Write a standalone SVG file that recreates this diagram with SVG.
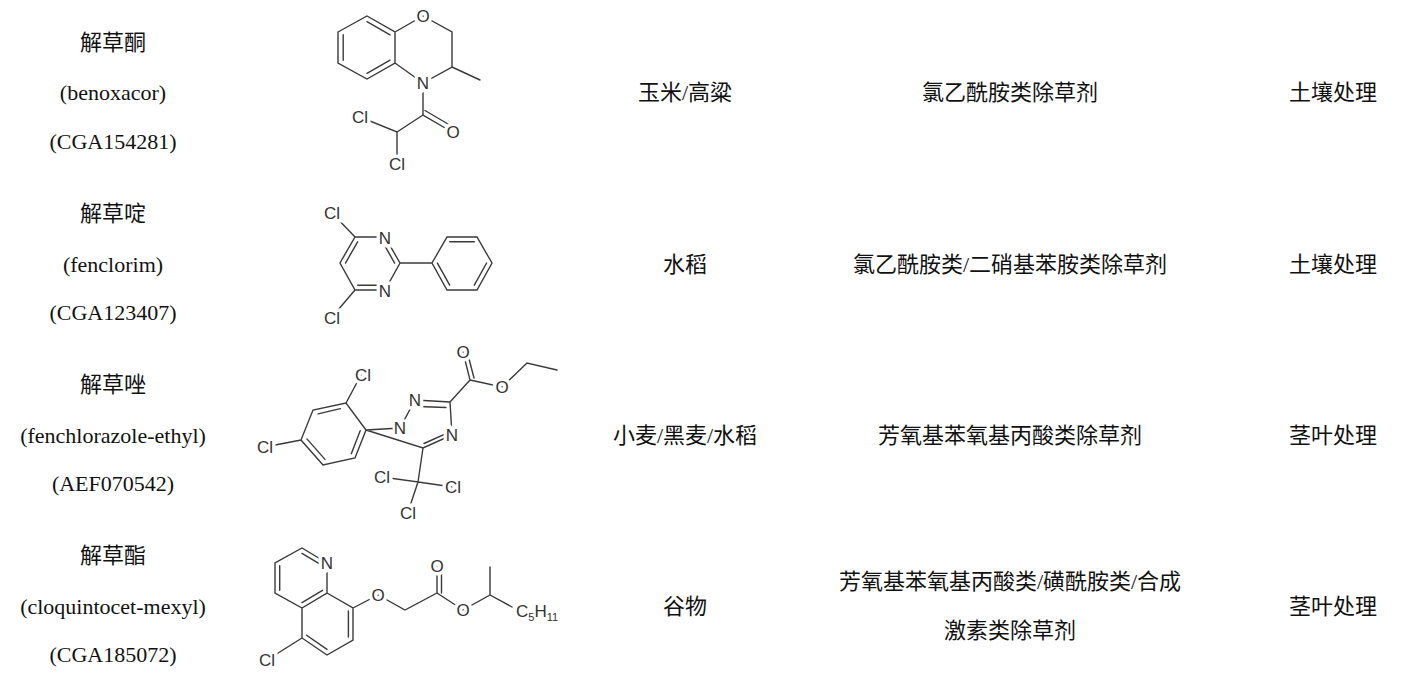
<svg xmlns="http://www.w3.org/2000/svg" width="1428" height="688" viewBox="0 0 1428 688">
<style>
.t{font-family:"Liberation Serif","Noto Sans CJK SC",serif;font-size:22px;fill:#111;text-anchor:middle}
.b{stroke:#3a3a3a;stroke-width:1.4;fill:none;stroke-linecap:round}
.a{font-family:"Liberation Sans",Arial,sans-serif;font-size:17px;fill:#333;text-anchor:middle;dominant-baseline:central;stroke:#fff;stroke-width:7;paint-order:stroke}
.c{font-family:"Liberation Sans",Arial,sans-serif;font-size:17px;fill:#333}
.s{font-size:11px}
</style>
<rect width="1428" height="688" fill="#fff"/>
<g id="row1">
<text class="t" x="113" y="50">解草酮</text><text class="t" x="113" y="100">(benoxacor)</text><text class="t" x="113" y="149">(CGA154281)</text>
<text class="t" x="685" y="100">玉米/高粱</text><text class="t" x="1010" y="100">氯乙酰胺类除草剂</text><text class="t" x="1333" y="100">土壤处理</text>
</g>
<g id="row2">
<text class="t" x="113" y="221">解草啶</text><text class="t" x="113" y="272">(fenclorim)</text><text class="t" x="113" y="320">(CGA123407)</text>
<text class="t" x="685" y="272">水稻</text><text class="t" x="1010" y="272">氯乙酰胺类/二硝基苯胺类除草剂</text><text class="t" x="1333" y="272">土壤处理</text>
</g>
<g id="row3">
<text class="t" x="113" y="392">解草唑</text><text class="t" x="113" y="443">(fenchlorazole-ethyl)</text><text class="t" x="113" y="491">(AEF070542)</text>
<text class="t" x="685" y="443">小麦/黑麦/水稻</text><text class="t" x="1010" y="443">芳氧基苯氧基丙酸类除草剂</text><text class="t" x="1333" y="443">茎叶处理</text>
</g>
<g id="row4">
<text class="t" x="113" y="563">解草酯</text><text class="t" x="113" y="614">(cloquintocet-mexyl)</text><text class="t" x="113" y="662">(CGA185072)</text>
<text class="t" x="685" y="614">谷物</text><text class="t" x="1010" y="589">芳氧基苯氧基丙酸类/磺酰胺类/合成</text><text class="t" x="1010" y="638">激素类除草剂</text><text class="t" x="1333" y="614">茎叶处理</text>
</g>
<g id="benoxacor">
<path class="b" d="M338,32L367,16L395,32L395,63L367,79L338,63Z M343.2,34.8V60.2 M367,21.7L390,34.8 M390,60.2L367,73.3 M395,32L423,16L452,32L452,67L423,83L395,63 M452,67L480,80 M423,83L423,115L452,132 M425,110.5L454,127.5 M423,115L397,132L360,117 M397,132L397,163"/>
<text class="a" x="423" y="16">O</text><text class="a" x="423" y="83">N</text><text class="a" x="453" y="132">O</text><text class="a" x="360" y="117">Cl</text><text class="a" x="397" y="164">Cl</text>
</g>
<g id="fenclorim">
<path class="b" d="M355,237L385,237L400,263L385,290L355,290L340,263Z M357.6,241.8L345.5,263.1 M382.6,241.8L394.6,263.1 M357.7,285.2L382.3,285.2 M355,237L332,213 M355,290L332,317 M400,263L432,263 M447,237L477,237L492,263L477,290L447,290L432,263Z M449.7,241.8L474.3,241.8 M486.6,263L474.3,285.2 M449.7,285.2L437.4,263.1"/>
<text class="a" x="385" y="238">N</text><text class="a" x="385" y="291">N</text><text class="a" x="332" y="213">Cl</text><text class="a" x="332" y="318">Cl</text>
</g>
<g id="fenchlorazole">
<path class="b" d="M366,430L346,403L313,410L301,440L323,465L355,458Z M340.4,408.6L318.1,413.9 M306.9,438.9L325,459.4 M351.3,453.7L360.2,430.7 M346,403L361,375 M301,440L265,447 M366,430L400,428L415,400L450,402L452,435L423,448Z M418,406.5L446,407.5 M447.7,432.8L424,443.5 M423,448L418,482L382,477 M418,482L453,487 M418,482L408,512 M450,402L470,380L463,352 M474,378L467,351 M470,380L502,387L527,363L557,370"/>
<text class="a" x="400" y="428" style="stroke-width:5">N</text><text class="a" x="415" y="400">N</text><text class="a" x="452" y="435">N</text><text class="a" x="463" y="352">O</text><text class="a" x="502" y="387">O</text>
<text class="a" x="363" y="375">Cl</text><text class="a" x="265" y="447">Cl</text><text class="a" x="382" y="477">Cl</text><text class="a" x="453" y="487">Cl</text><text class="a" x="408" y="513">Cl</text>
</g>
<g id="cloquintocet">
<path class="b" d="M327,563L302,548L275,563L275,593L302,608L327,593Z M302,553.4L322.5,565.7 M279.7,565.7L279.7,590.3 M302,602.6L322.5,590.3 M302,608L302,638L327,655L353,640L353,608L327,593 M306.6,635.2L327,649.4 M348.4,637.1L348.4,610.9 M302,638L267,660 M353,608L378,595L405,610L437,593L463,610L490,595L512,607 M437,593V567 M441.5,593V567 M490,595V567"/>
<text class="a" x="327" y="563">N</text><text class="a" x="378" y="595">O</text><text class="a" x="437" y="566">O</text><text class="a" x="463" y="610">O</text><text class="a" x="267" y="660">Cl</text>
<text class="c" x="516" y="617">C<tspan class="s" dy="4">5</tspan><tspan dy="-4">H</tspan><tspan class="s" dy="4">11</tspan></text>
</g>
</svg>
